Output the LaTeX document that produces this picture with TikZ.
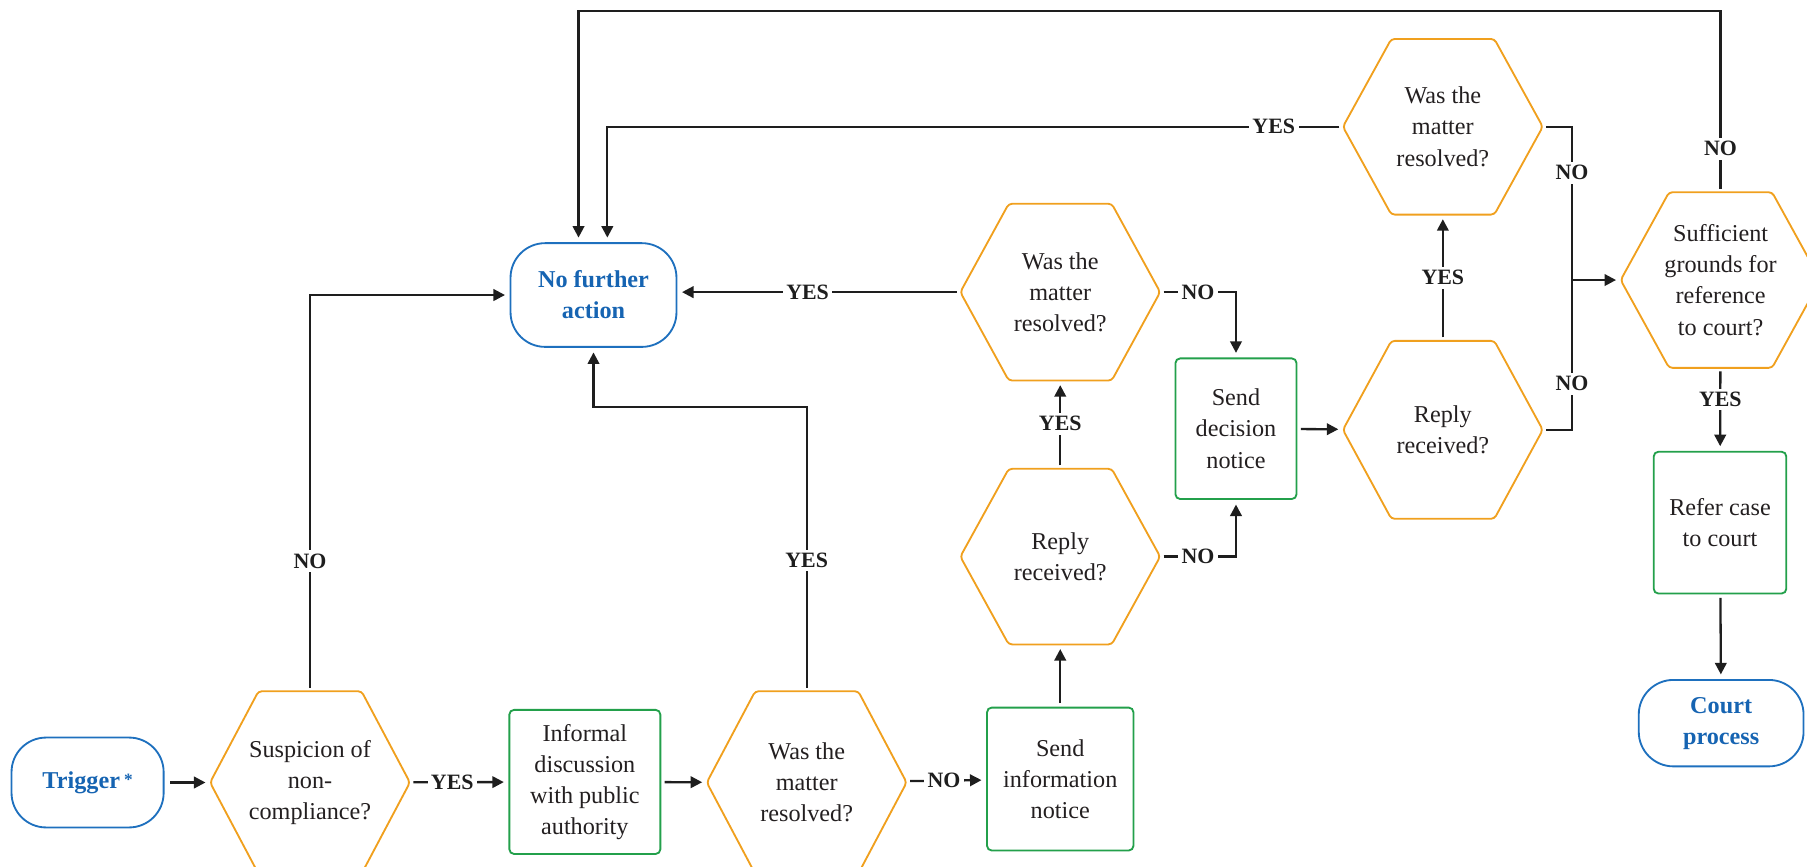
\documentclass[tikz,border=0pt]{standalone}
\usepackage{fontspec}
\setmainfont{Liberation Serif}
\usetikzlibrary{arrows.meta}
\definecolor{hexor}{RGB}{240,160,30}
\definecolor{boxgreen}{RGB}{35,160,75}
\definecolor{termblue}{RGB}{30,112,190}
\definecolor{termtext}{RGB}{22,100,178}
\definecolor{linec}{RGB}{30,30,30}
\definecolor{txt}{RGB}{35,31,32}
\begin{document}
\begin{tikzpicture}[x=1pt,y=-1pt,
  every node/.style={font=\fontsize{21}{27}\selectfont},
  hexa/.style={shape=rectangle, inner sep=0pt, minimum width=173pt, minimum height=152pt, align=center, text=txt},
  procbox/.style={draw=boxgreen, line width=1.6pt, rounded corners=4pt, inner sep=0pt, align=center, text=txt},
  termbox/.style={draw=termblue, line width=1.6pt, rounded corners=30pt, inner sep=0pt, align=center, text=termtext, font=\fontsize{21}{27}\selectfont\bfseries},
  hexline/.style={draw=hexor, line width=1.6pt, rounded corners=3pt},
  conn/.style={draw=linec, line width=2pt, shorten <=3pt},
  arr/.style={conn, -{Triangle[length=10pt,width=10pt]}, shorten >=4pt},
  lbl/.style={fill=white, inner sep=3pt, font=\fontsize{19}{22}\selectfont\bfseries, text=linec},
]
\useasboundingbox (0,0) rectangle (1568,751.5);

% terminals
\node[termbox, minimum width=132pt, minimum height=78pt] (trig) at (76,679) {Trigger\,{\fontsize{15}{15}\selectfont\raisebox{2pt}{*}}};
\node[termbox, minimum width=144pt, minimum height=90pt] (nfa) at (515,256) {No further\\action};
\node[termbox, minimum width=143pt, minimum height=75pt] (court) at (1493.5,627.5) {Court\\process};

% process boxes
\node[procbox, minimum width=131pt, minimum height=125pt] (inf) at (507.5,678.5) {Informal\\discussion\\with public\\authority};
\node[procbox, minimum width=127pt, minimum height=124pt] (info) at (920,676) {Send\\information\\notice};
\node[procbox, minimum width=105pt, minimum height=122pt] (dec) at (1072.5,372) {Send\\decision\\notice};
\node[procbox, minimum width=115pt, minimum height=123pt] (ref) at (1492.5,453.5) {Refer case\\to court};

% decisions
\node[hexa, minimum height=158pt] (h1) at (269,679) {Suspicion of\\non-\\compliance?};
\node[hexa, minimum height=158pt] (h2) at (700,679) {Was the\\matter\\resolved?};
\node[hexa] (h3) at (920,483) {Reply\\received?};
\node[hexa, minimum height=153pt] (h4) at (920,253.5) {Was the\\matter\\resolved?};
\node[hexa, minimum height=154pt] (h5) at (1252,373) {Reply\\received?};
\node[hexa] (h6) at (1252,110) {Was the\\matter\\resolved?};
\node[hexa] (h7) at (1493,243) {Sufficient\\grounds for\\reference\\to court?};

\foreach \n in {h1,h2,h3,h4,h5,h6,h7}
  \draw[hexline] ([xshift=42pt]\n.north west) -- ([xshift=-42pt]\n.north east) -- (\n.east)
    -- ([xshift=-42pt]\n.south east) -- ([xshift=42pt]\n.south west) -- (\n.west) -- cycle;

% helper coordinates
\coordinate (c2) at (700,353);
\coordinate (jt) at (1364,110);
\coordinate (jb) at (1364,373);
\coordinate (j) at (1364,243);
\coordinate (topr) at (1493,9.5);

% connectors
\draw[arr, shorten <=5pt] (trig) -- (h1);
\draw[arr] (h1) -- node[lbl,pos=0.43]{YES} (inf);
\draw[arr] (inf) -- (h2);
\draw[arr] (h2) -- node[lbl,pos=0.47]{NO} (info);
\draw[arr] (info) -- (h3);
\draw[arr] (h3) -- node[lbl,pos=0.51]{YES} (h4);
\draw[arr] (h4.west) -- node[lbl,pos=0.54]{YES} (h4.west -| nfa.east);
\draw[arr] (h1.north) |- node[lbl,pos=0.164]{NO} (nfa.west);
\draw[arr] (h2.north) -- node[lbl,pos=0.46]{YES} (c2) -| (nfa.south);
\draw[arr] (h4.east) -| node[lbl,pos=0.25]{NO} (dec.north);
\draw[arr] (h3.east) -| node[lbl,pos=0.25]{NO} (dec.south);
\draw[arr] (dec) -- (h5);
\draw[arr] (h5) -- node[lbl,pos=0.5]{YES} (h6);
\draw[arr] (h6.west) -| node[lbl,pos=0.047]{YES} ([xshift=12pt]nfa.north);
\draw[conn, shorten >=3pt] (h6.east) -- (jt) -- node[lbl,pos=0.152]{NO} node[lbl,pos=0.848]{NO} (jb) -- (h5.east);
\draw[arr, shorten <=0pt] (j) -- (h7.west);
\draw[arr] (h7.north) -- node[lbl,pos=0.24]{NO} (topr) -| ([xshift=-13pt]nfa.north);
\draw[arr] (h7) -- node[lbl,pos=0.38]{YES} (ref);
\draw[arr] (ref) -- (court);
\end{tikzpicture}
\end{document}
